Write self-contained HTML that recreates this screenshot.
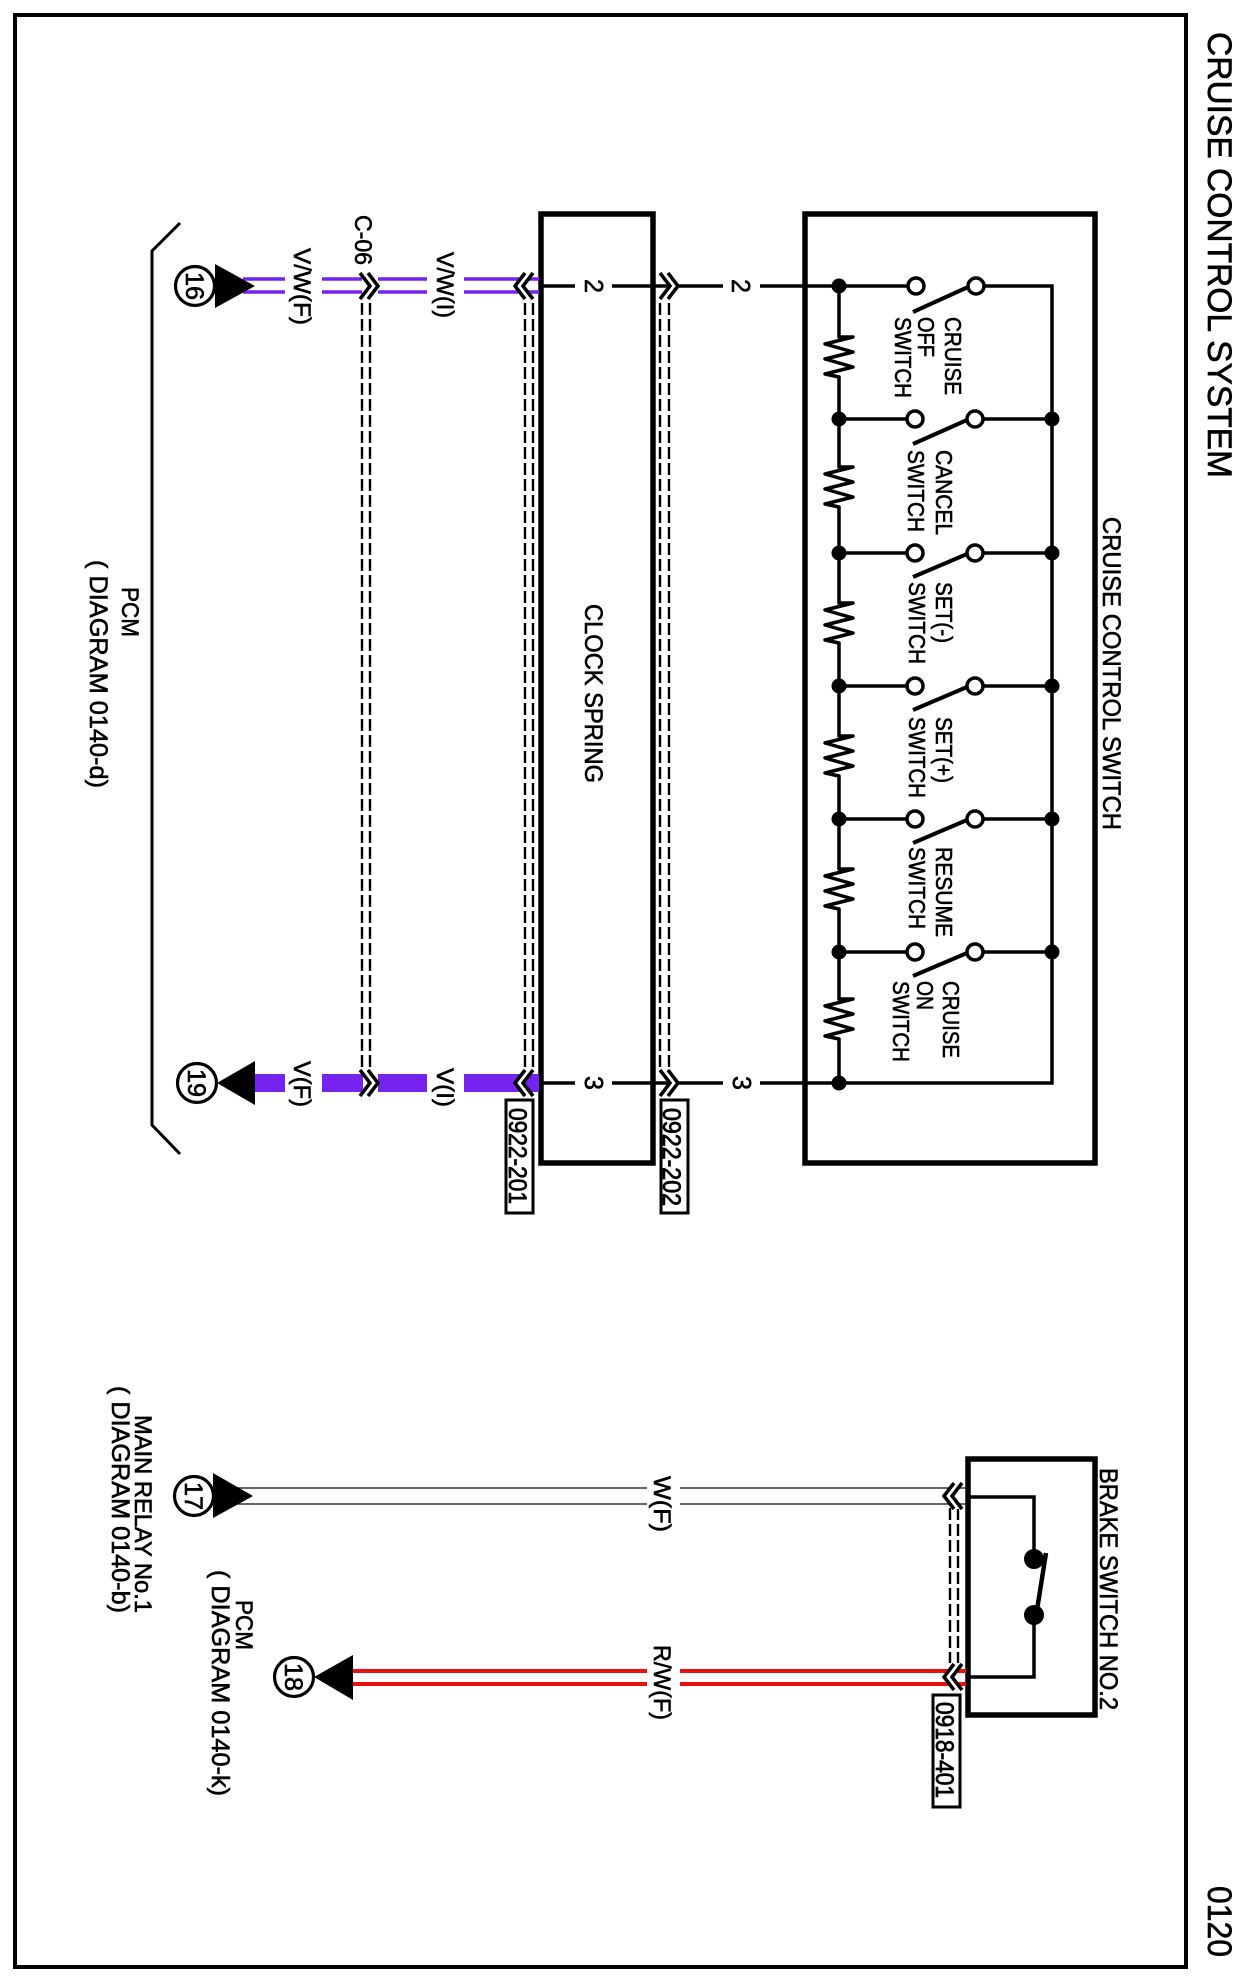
<!DOCTYPE html>
<html><head><meta charset="utf-8"><style>
html,body{margin:0;padding:0;background:#fff}
svg{display:block}
text{font-family:"Liberation Sans",sans-serif;fill:#000;stroke:#000;stroke-width:.6;font-size:22px}
</style></head><body>
<svg width="1238" height="1980" viewBox="0 0 1238 1980" xmlns="http://www.w3.org/2000/svg">
<defs>
<g id="chev"><polygon points="-10,-13 0,0 -10,13 -2,13 8,0 -2,-13" fill="#fff"/><polyline points="-10,-13 0,0 -10,13" fill="none" stroke="#000" stroke-width="3.5"/><polyline points="-2,-13 8,0 -2,13" fill="none" stroke="#000" stroke-width="3.5"/></g>
<polyline id="res" points="839,0 853,0 825,7 853,15 825,22 853,30 825,37 839,40" fill="none" stroke="#000" stroke-width="3.5" stroke-linejoin="round" stroke-linecap="round"/>
</defs>
<rect width="1238" height="1980" fill="#fff"/>
<rect x="15" y="15" width="1171" height="1952" fill="none" stroke="#000" stroke-width="4"/>

<!-- boxes -->
<rect x="805" y="214" width="290" height="949" fill="none" stroke="#000" stroke-width="5.5"/>
<rect x="541" y="214" width="112" height="949" fill="none" stroke="#000" stroke-width="5.5"/>
<rect x="968" y="1459" width="127" height="256" fill="none" stroke="#000" stroke-width="5.5"/>

<!-- switch network -->
<g fill="none" stroke="#000" stroke-width="3.5">
<path d="M839,286V337M839,377V467M839,507V603M839,643V736M839,776V869M839,909V999M839,1039V1083"/>
<path d="M839,286H908M984,286H1052V1083H839"/>
<path d="M839,419H907M983,419H1052"/>
<path d="M839,553H907M983,553H1052"/>
<path d="M839,686H907M983,686H1052"/>
<path d="M839,819H907M983,819H1052"/>
<path d="M839,952H907M983,952H1052"/>
<path d="M913,312L968,287M913,444L967,420M913,577L967,554M913,710L967,687M913,843L967,820M913,976L967,953" stroke-width="4"/>
</g>
<use href="#res" y="337"/><use href="#res" y="467"/><use href="#res" y="603"/><use href="#res" y="736"/><use href="#res" y="869"/><use href="#res" y="999"/>
<g fill="#000">
<circle cx="839" cy="286" r="7.5"/><circle cx="839" cy="419" r="7.5"/><circle cx="839" cy="553" r="7.5"/><circle cx="839" cy="686" r="7.5"/><circle cx="839" cy="819" r="7.5"/><circle cx="839" cy="952" r="7.5"/><circle cx="839" cy="1083" r="7.5"/>
<circle cx="1052" cy="419" r="7.5"/><circle cx="1052" cy="553" r="7.5"/><circle cx="1052" cy="686" r="7.5"/><circle cx="1052" cy="819" r="7.5"/><circle cx="1052" cy="952" r="7.5"/>
</g>
<g fill="#fff" stroke="#000" stroke-width="3.5">
<circle cx="916" cy="286" r="8"/><circle cx="976" cy="286" r="8"/>
<circle cx="915" cy="419" r="8"/><circle cx="975" cy="419" r="8"/>
<circle cx="915" cy="553" r="8"/><circle cx="975" cy="553" r="8"/>
<circle cx="915" cy="686" r="8"/><circle cx="975" cy="686" r="8"/>
<circle cx="915" cy="819" r="8"/><circle cx="975" cy="819" r="8"/>
<circle cx="915" cy="952" r="8"/><circle cx="975" cy="952" r="8"/>
</g>

<!-- pass-through wires -->
<path d="M541,286H575M612,286H723M760,286H839M541,1083H575M612,1083H723M760,1083H839" fill="none" stroke="#000" stroke-width="3.5"/>

<!-- dashed shields -->
<path d="M362,303V1068M370,303V1068M525,303V1068M533,303V1068M660,303V1068M669,303V1068M950,1508V1663M958,1508V1663" fill="none" stroke="#000" stroke-width="2.4" stroke-dasharray="12 4"/>

<!-- purple wires -->
<path d="M243,279H285M243,292H285M322,279H362M322,292H362M378,279H427M378,292H427M464,279H539M464,292H539" fill="none" stroke="#7424ee" stroke-width="3.5"/>
<path d="M254,1083H285M322,1083H363M378,1083H427M464,1083H539" fill="none" stroke="#7424ee" stroke-width="18"/>

<!-- white and red wires -->
<path d="M235,1488H647M680,1488H966M235,1504H647M680,1504H966" fill="none" stroke="#333" stroke-width="1.5"/>
<path d="M352,1671H647M680,1671H966M352,1684H647M680,1684H966" fill="none" stroke="#e81010" stroke-width="4"/>

<!-- brake switch -->
<g fill="none" stroke="#000" stroke-width="3.5">
<path d="M968,1497H1034V1559M1034,1615V1677H968"/>
<path d="M1037,1610L1046,1553" stroke-width="4.5"/>
</g>
<circle cx="1034" cy="1559" r="10"/><circle cx="1034" cy="1615" r="10"/>

<!-- chevrons -->
<use href="#chev" transform="translate(370,286)"/>
<use href="#chev" transform="translate(370,1083)"/>
<use href="#chev" transform="translate(670,286)"/>
<use href="#chev" transform="translate(670,1083)"/>
<use href="#chev" transform="translate(523,286) scale(-1,1)"/>
<use href="#chev" transform="translate(523,1083) scale(-1,1)"/>
<use href="#chev" transform="translate(952,1496) scale(-1,1)"/>
<use href="#chev" transform="translate(952,1677) scale(-1,1)"/>

<!-- terminals -->
<g fill="#fff" stroke="#000" stroke-width="3.2">
<circle cx="195" cy="286" r="19.5"/><circle cx="197" cy="1083" r="19.5"/><circle cx="194" cy="1496" r="19.5"/><circle cx="294" cy="1677" r="19.5"/>
</g>
<polygon points="215,264 255,286 215,308"/>
<polygon points="217,1083 255,1061 255,1105"/>
<polygon points="213,1473 253,1496 213,1518"/>
<polygon points="314,1677 353,1655 353,1700"/>

<!-- bracket -->
<path d="M180,223L152,251V1125L180,1154" fill="none" stroke="#000" stroke-width="3"/>

<!-- connector tags -->
<g fill="#fff" stroke="#000" stroke-width="3">
<rect x="506" y="1100" width="27" height="113"/>
<rect x="661" y="1100" width="27" height="113"/>
<rect x="933" y="1695" width="27" height="112"/>
</g>

<!-- labels -->
<text transform="translate(1208,32) rotate(90)" textLength="446" lengthAdjust="spacingAndGlyphs" style="font-size:34px">CRUISE CONTROL SYSTEM</text>
<text transform="translate(1208,1886) rotate(90)" textLength="71" lengthAdjust="spacingAndGlyphs" style="font-size:34px">0120</text>

<text transform="translate(1103,517) rotate(90)" textLength="313" lengthAdjust="spacingAndGlyphs" style="font-size:25px">CRUISE CONTROL SWITCH</text>
<text transform="translate(585,604) rotate(90)" textLength="179" lengthAdjust="spacingAndGlyphs" style="font-size:25px">CLOCK SPRING</text>
<text transform="translate(1100,1468) rotate(90)" textLength="242" lengthAdjust="spacingAndGlyphs" style="font-size:25px">BRAKE SWITCH NO.2</text>

<text transform="translate(945,317) rotate(90)" textLength="78" lengthAdjust="spacingAndGlyphs" style="font-size:23px">CRUISE</text>
<text transform="translate(918,317) rotate(90)" textLength="40" lengthAdjust="spacingAndGlyphs" style="font-size:23px">OFF</text>
<text transform="translate(895,317) rotate(90)" textLength="81" lengthAdjust="spacingAndGlyphs" style="font-size:23px">SWITCH</text>
<text transform="translate(936,450) rotate(90)" textLength="85" lengthAdjust="spacingAndGlyphs" style="font-size:23px">CANCEL</text>
<text transform="translate(908,450) rotate(90)" textLength="82" lengthAdjust="spacingAndGlyphs" style="font-size:23px">SWITCH</text>
<text transform="translate(936,582) rotate(90)" textLength="61" lengthAdjust="spacingAndGlyphs" style="font-size:23px">SET(-)</text>
<text transform="translate(909,582) rotate(90)" textLength="82" lengthAdjust="spacingAndGlyphs" style="font-size:23px">SWITCH</text>
<text transform="translate(936,717) rotate(90)" textLength="66" lengthAdjust="spacingAndGlyphs" style="font-size:23px">SET(+)</text>
<text transform="translate(909,717) rotate(90)" textLength="81" lengthAdjust="spacingAndGlyphs" style="font-size:23px">SWITCH</text>
<text transform="translate(936,847) rotate(90)" textLength="90" lengthAdjust="spacingAndGlyphs" style="font-size:23px">RESUME</text>
<text transform="translate(909,847) rotate(90)" textLength="82" lengthAdjust="spacingAndGlyphs" style="font-size:23px">SWITCH</text>
<text transform="translate(943,981) rotate(90)" textLength="77" lengthAdjust="spacingAndGlyphs" style="font-size:23px">CRUISE</text>
<text transform="translate(917,981) rotate(90)" textLength="29" lengthAdjust="spacingAndGlyphs" style="font-size:23px">ON</text>
<text transform="translate(893,981) rotate(90)" textLength="81" lengthAdjust="spacingAndGlyphs" style="font-size:23px">SWITCH</text>

<text transform="translate(585,279) rotate(90)" style="font-size:26px" textLength="14" lengthAdjust="spacingAndGlyphs">2</text>
<text transform="translate(732,279) rotate(90)" style="font-size:26px" textLength="14" lengthAdjust="spacingAndGlyphs">2</text>
<text transform="translate(585,1076) rotate(90)" style="font-size:26px" textLength="14" lengthAdjust="spacingAndGlyphs">3</text>
<text transform="translate(733,1076) rotate(90)" style="font-size:26px" textLength="14" lengthAdjust="spacingAndGlyphs">3</text>

<text transform="translate(509,1108) rotate(90)" textLength="96" lengthAdjust="spacingAndGlyphs" style="font-size:25px;stroke-width:.8">0922-201</text>
<text transform="translate(663,1108) rotate(90)" textLength="98" lengthAdjust="spacingAndGlyphs" style="font-size:25px;stroke-width:.8">0922-202</text>
<text transform="translate(936,1702) rotate(90)" textLength="96" lengthAdjust="spacingAndGlyphs" style="font-size:25px;stroke-width:.8">0918-401</text>

<text transform="translate(294,248) rotate(90)" textLength="77" lengthAdjust="spacingAndGlyphs" style="font-size:24px">V/W(F)</text>
<text transform="translate(437,252) rotate(90)" textLength="66" lengthAdjust="spacingAndGlyphs" style="font-size:24px">V/W(I)</text>
<text transform="translate(355,215) rotate(90)" textLength="50" lengthAdjust="spacingAndGlyphs" style="font-size:24px">C-06</text>
<text transform="translate(294,1061) rotate(90)" textLength="46" lengthAdjust="spacingAndGlyphs" style="font-size:24px">V(F)</text>
<text transform="translate(437,1068) rotate(90)" textLength="39" lengthAdjust="spacingAndGlyphs" style="font-size:24px">V(I)</text>
<text transform="translate(654,1476) rotate(90)" textLength="56" lengthAdjust="spacingAndGlyphs" style="font-size:24px">W(F)</text>
<text transform="translate(654,1645) rotate(90)" textLength="75" lengthAdjust="spacingAndGlyphs" style="font-size:24px">R/W(F)</text>

<text transform="translate(186,272) rotate(90)" textLength="28" lengthAdjust="spacingAndGlyphs" style="font-size:25px">16</text>
<text transform="translate(188,1069) rotate(90)" textLength="28" lengthAdjust="spacingAndGlyphs" style="font-size:25px">19</text>
<text transform="translate(185,1482) rotate(90)" textLength="28" lengthAdjust="spacingAndGlyphs" style="font-size:25px">17</text>
<text transform="translate(285,1663) rotate(90)" textLength="28" lengthAdjust="spacingAndGlyphs" style="font-size:25px">18</text>

<text transform="translate(122,587) rotate(90)" textLength="50" lengthAdjust="spacingAndGlyphs" style="font-size:24px">PCM</text>
<text transform="translate(90,560) rotate(90)" textLength="228" lengthAdjust="spacingAndGlyphs" style="font-size:25px">( DIAGRAM 0140-d)</text>
<text transform="translate(135,1415) rotate(90)" textLength="198" lengthAdjust="spacingAndGlyphs" style="font-size:24px">MAIN RELAY No.1</text>
<text transform="translate(112,1386) rotate(90)" textLength="227" lengthAdjust="spacingAndGlyphs" style="font-size:25px">( DIAGRAM 0140-b)</text>
<text transform="translate(236,1600) rotate(90)" textLength="50" lengthAdjust="spacingAndGlyphs" style="font-size:24px">PCM</text>
<text transform="translate(212,1570) rotate(90)" textLength="226" lengthAdjust="spacingAndGlyphs" style="font-size:25px">( DIAGRAM 0140-k)</text>
</svg>
</body></html>
